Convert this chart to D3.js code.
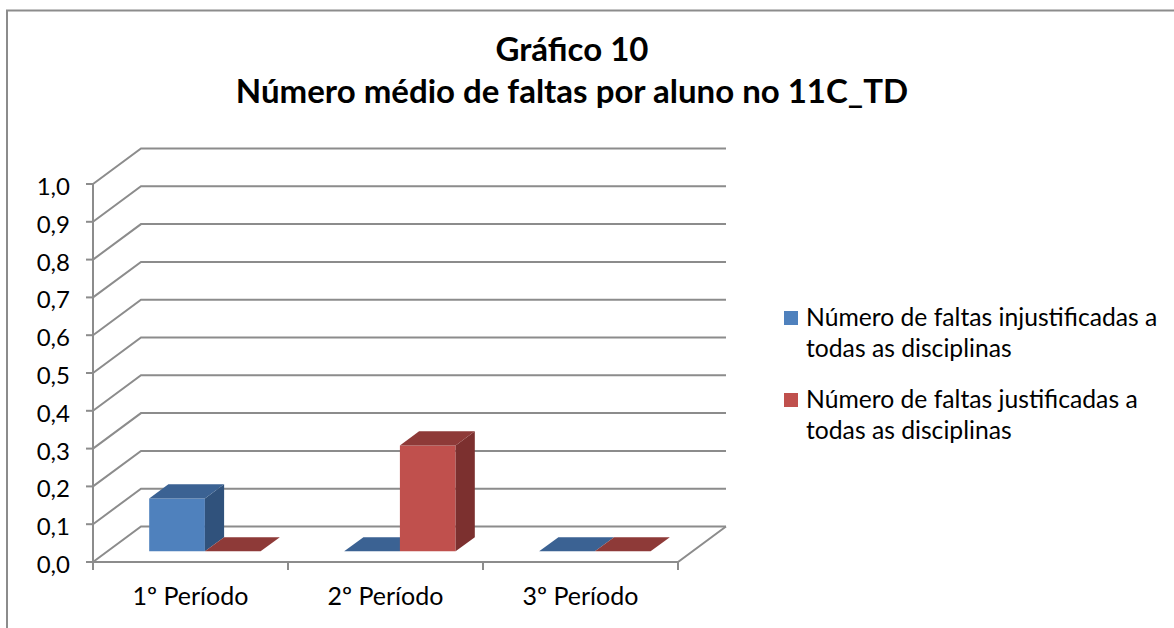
<!DOCTYPE html>
<html>
<head>
<meta charset="utf-8">
<script src="https://cdn.jsdelivr.net/npm/d3@7"></script>
<style>
  body { margin: 0; background: #fff; }
  text { font-family: Lato, "Open Sans", sans-serif; fill: #000; }
</style>
</head>
<body>
<div id="chart"></div>
<script>
// data
const categories = ["1º Período", "2º Período", "3º Período"]
const seriesNames = ["injustificadas", "justificadas"]
const injustificadas = [0.14, 0, 0]
const justificadas = [0, 0.28, 0]
const yTicks = [0, 0.1, 0.2, 0.3, 0.4, 0.5, 0.6, 0.7, 0.8, 0.9, 1.0]
const legendLines = [
  ["Número de faltas injustificadas a", "todas as disciplinas"],
  ["Número de faltas justificadas a", "todas as disciplinas"]
]
const titleLines = ["Gráfico 10", "Número médio de faltas por aluno no 11C_TD"]

const W = 1174, H = 628
const colors = {
  injustificadas: { front: "#4f81bd", top: "#3b6293", side: "#30527c" },
  justificadas: { front: "#c0504d", top: "#8e3a38", side: "#7c302f" }
}
const gridColor = "#8c8c8c"

const svg = d3.select("#chart").append("svg")
  .attr("width", W)
  .attr("height", H)

// frame (only left and top edges are visible in the crop)
svg.append("path")
  .attr("d", "M7,628 V10.5 H1174")
  .attr("fill", "none")
  .attr("stroke", "#8c8c8c")
  .attr("stroke-width", 2)

// front plane scales
const x = d3.scaleBand().domain(categories).range([93, 678])
const barW = x.bandwidth() / 3.5 // gap width 150%
const inner = d3.scaleBand().domain(seriesNames)
  .range([barW * 0.75, barW * 2.75])
const y = d3.scaleLinear().domain([0, 1]).range([562, 184])

// oblique depth offset for the full floor depth
const depth = { dx: 48, dy: -35.5 }
const proj = (xf, v, d) => [xf + d * depth.dx, y(v) + d * depth.dy]
const pts = (arr) => arr.map(p => p.join(",")).join(" ")

const x0 = x.range()[0], x1 = x.range()[1]

// gridlines on side wall and back wall
const grid = svg.append("g")
  .attr("stroke", gridColor)
  .attr("stroke-width", 2)
  .attr("fill", "none")
yTicks.forEach(v => {
  grid.append("polyline")
    .attr("points", pts([proj(x0, v, 0), proj(x0, v, 1), proj(x1, v, 1)]))
})

// floor front and right edges
grid.append("polyline")
  .attr("points", pts([proj(x0, 0, 0), proj(x1, 0, 0), proj(x1, 0, 1)]))

// value axis
const yAxis = svg.append("g")
yAxis.append("line")
  .attr("x1", x0).attr("x2", x0)
  .attr("y1", y(1)).attr("y2", y(0))
  .attr("stroke", gridColor).attr("stroke-width", 2)
yAxis.selectAll(".tick").data(yTicks).enter()
  .append("line")
  .attr("x1", x0 - 7).attr("x2", x0)
  .attr("y1", d => y(d)).attr("y2", d => y(d))
  .attr("stroke", gridColor).attr("stroke-width", 2)
yAxis.selectAll("text").data(yTicks).enter()
  .append("text")
  .attr("x", 70)
  .attr("y", d => y(d) + 11)
  .attr("text-anchor", "end")
  .attr("font-size", 24)
  .text(d => d3.format(".1f")(d).replace(".", ","))

// category axis ticks and labels
const xTickPos = categories.map(c => x(c)).concat([x1])
svg.append("g").selectAll("line").data(xTickPos).enter()
  .append("line")
  .attr("x1", d => d).attr("x2", d => d)
  .attr("y1", y(0)).attr("y2", y(0) + 8)
  .attr("stroke", gridColor).attr("stroke-width", 2)
svg.append("g").selectAll("text").data(categories).enter()
  .append("text")
  .attr("x", d => x(d) + x.bandwidth() / 2)
  .attr("y", 605)
  .attr("text-anchor", "middle")
  .attr("font-size", 25)
  .text(d => d)

// 3D columns
const values = { injustificadas, justificadas }
const d0 = 0.3, d1 = 0.7
const bars = svg.append("g")
categories.forEach((c, i) => {
  seriesNames.forEach(s => {
    const v = values[s][i]
    const xl = x(c) + inner(s)
    const xr = xl + barW
    const col = colors[s]
    if (v > 0) {
      bars.append("polygon") // front
        .attr("points", pts([proj(xl, v, d0), proj(xr, v, d0), proj(xr, 0, d0), proj(xl, 0, d0)]))
        .attr("fill", col.front)
      bars.append("polygon") // side
        .attr("points", pts([proj(xr, v, d0), proj(xr, v, d1), proj(xr, 0, d1), proj(xr, 0, d0)]))
        .attr("fill", col.side)
    }
    bars.append("polygon") // top
      .attr("points", pts([proj(xl, v, d0), proj(xr, v, d0), proj(xr, v, d1), proj(xl, v, d1)]))
      .attr("fill", col.top)
  })
})

// title
svg.append("g").selectAll("text").data(titleLines).enter()
  .append("text")
  .attr("x", 572)
  .attr("y", (d, i) => 61 + i * 42)
  .attr("text-anchor", "middle")
  .attr("font-size", 33)
  .attr("font-weight", "bold")
  .text(d => d)

// legend
const legend = svg.append("g")
legendLines.forEach((lines, i) => {
  const top = 311 + i * 82
  legend.append("rect")
    .attr("x", 784).attr("y", top)
    .attr("width", 14).attr("height", 14)
    .attr("fill", colors[seriesNames[i]].front)
  lines.forEach((t, k) => {
    legend.append("text")
      .attr("x", 806)
      .attr("y", top + 15 + k * 31)
      .attr("font-size", 24.7)
      .text(t)
  })
})
</script>
</body>
</html>
